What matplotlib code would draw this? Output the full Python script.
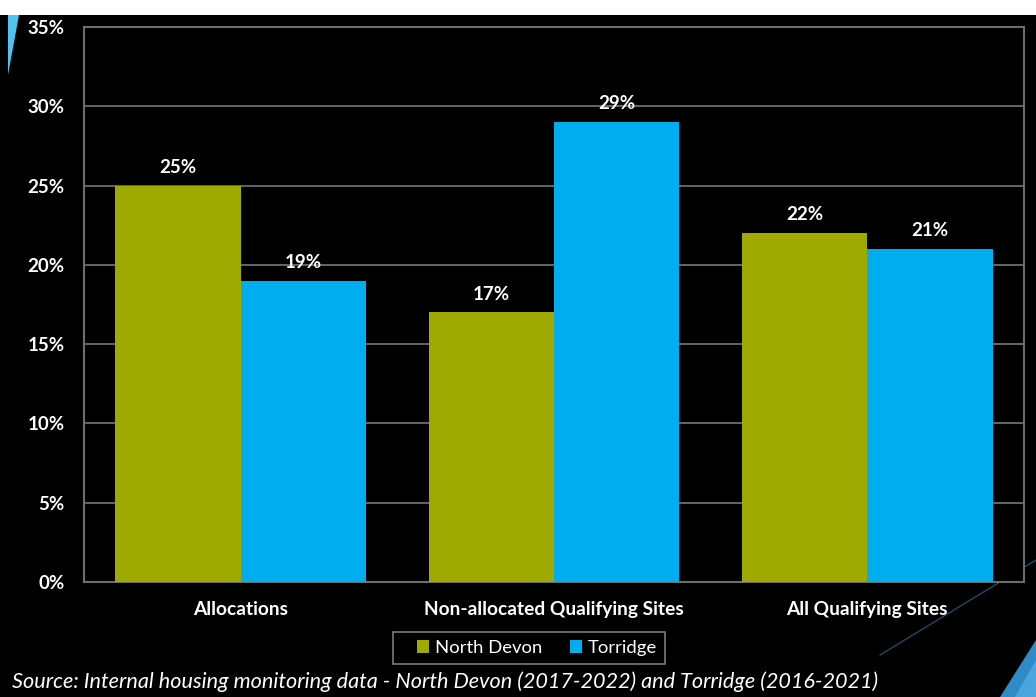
import matplotlib
matplotlib.use("Agg")
import matplotlib.pyplot as plt
from matplotlib.patches import Polygon, Rectangle
import numpy as np

categories = ["Allocations", "Non-allocated Qualifying Sites", "All Qualifying Sites"]
north_devon = [25, 17, 22]
torridge = [19, 29, 21]
series_names = ["North Devon", "Torridge"]
yticks = [0, 5, 10, 15, 20, 25, 30, 35]
source_text = "Source: Internal housing monitoring data - North Devon (2017-2022) and Torridge (2016-2021)"

OLIVE = "#9EAA00"
CYAN = "#00AEEF"
GRID = "#6E6E6E"
FONT = "Lato"

W, H = 1036, 697
fig = plt.figure(figsize=(W / 100, H / 100), dpi=100)
fig.patch.set_facecolor("white")

def fp(x, y):
    return (x / W, 1 - y / H)

# black slide background below white strip
fig.patches.append(Rectangle((0, 0), 1, (H - 15) / H, transform=fig.transFigure,
                             facecolor="black", edgecolor="none", zorder=0))
# left cyan wedge
fig.patches.append(Polygon([fp(8, 15), fp(19, 15), fp(8, 75)], closed=True,
                           transform=fig.transFigure, facecolor="#4FC3EE",
                           edgecolor="none", zorder=1))
# bottom-right decorations
fig.patches.append(Polygon([fp(1036, 640), fp(1036, 697), fp(1000, 697)], closed=True,
                           transform=fig.transFigure, facecolor="#2E8BC8",
                           edgecolor="none", zorder=1))
fig.patches.append(Polygon([fp(1036, 660), fp(1036, 697), fp(1015, 697)], closed=True,
                           transform=fig.transFigure, facecolor="#4AA5DD",
                           edgecolor="none", zorder=1))
fig.lines.append(plt.Line2D([1036 / W, 880 / W], [1 - 560 / H, 1 - 655 / H],
                            transform=fig.transFigure, color="#1E5C7A", lw=0.8, zorder=1))

ax = fig.add_axes([84 / W, 115 / H, 940 / W, 555 / H])
ax.set_facecolor("black")
ax.set_zorder(2)

x = np.arange(len(categories))
bw = 0.4
b1 = ax.bar(x - bw / 2, north_devon, bw, color=OLIVE, label=series_names[0], zorder=3)
b2 = ax.bar(x + bw / 2, torridge, bw, color=CYAN, label=series_names[1], zorder=3)

for bars, vals in ((b1, north_devon), (b2, torridge)):
    for r, v in zip(bars, vals):
        ax.annotate(f"{v}%", (r.get_x() + r.get_width() / 2, v), xytext=(0, 7),
                    textcoords="offset points", ha="center", va="bottom",
                    color="white", fontsize=13.5, fontweight="bold", family=FONT)

ax.set_xlim(-0.5, 2.5)
ax.set_ylim(0, 35)
ax.set_yticks(yticks)
ax.set_yticklabels([f"{t}%" for t in yticks])
ax.set_xticks(x)
ax.set_xticklabels(categories)
ax.grid(axis="y", color=GRID, lw=1.3, zorder=1)
ax.tick_params(axis="both", length=0, colors="white")
ax.tick_params(axis="y", pad=14, labelsize=13.5)
ax.tick_params(axis="x", pad=14, labelsize=13.8)
for lab in ax.get_xticklabels() + ax.get_yticklabels():
    lab.set_fontweight("bold")
    lab.set_family(FONT)
for s in ax.spines.values():
    s.set_color(GRID)
    s.set_linewidth(1.5)

# legend box frame
fig.patches.append(Rectangle(fp(393, 664), 272 / W, 32 / H, transform=fig.transFigure,
                             facecolor="black", edgecolor="#7A7A7A", lw=1.2, zorder=1))
leg = fig.legend(loc="center", bbox_to_anchor=(537 / W, 1 - 648 / H), ncol=2,
                 frameon=False,
                 handlelength=0.65, handleheight=0.65, handletextpad=0.3,
                 columnspacing=1.5, borderpad=0.3,
                 prop={"family": FONT, "size": 13.3})
for t in leg.get_texts():
    t.set_color("white")

fig.text(12 / W, 1 - 682 / H, source_text, ha="left", va="center", color="white",
         fontsize=15.6, style="italic", family=FONT)

fig.savefig("out.png", dpi=100, facecolor=fig.get_facecolor())
